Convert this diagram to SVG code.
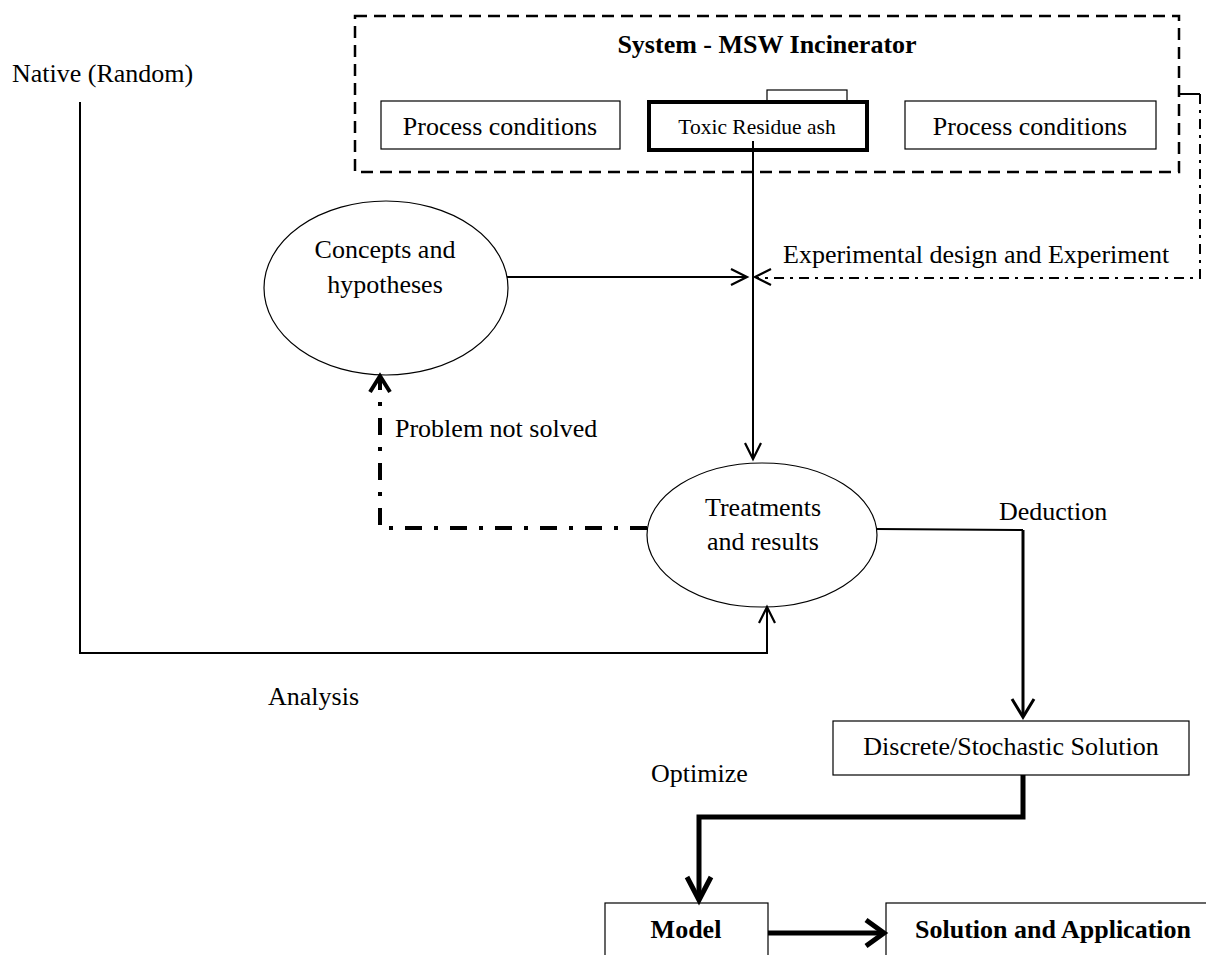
<svg xmlns="http://www.w3.org/2000/svg" width="1206" height="955" viewBox="0 0 1206 955">
<style>
text{font-family:"Liberation Serif","Times New Roman",serif;font-size:26px;fill:#000}
.b{font-weight:bold}
.box{fill:#fff;stroke:#000;stroke-width:1.2}
.ell{fill:#fff;stroke:#000;stroke-width:1.2}
.ln{fill:none;stroke:#000;stroke-width:2}
.ah{fill:none;stroke:#000;stroke-width:2.2}
.thick{fill:none;stroke:#000;stroke-width:5}
.dd{fill:none;stroke:#000;stroke-width:2;stroke-dasharray:10 6 3 6}
.ddb{fill:none;stroke:#000;stroke-width:4;stroke-dasharray:17 12 4 12}
</style>
<rect width="1206" height="955" fill="#fff"/>
<g id="system">
<rect x="355" y="16" width="824" height="156" fill="none" stroke="#000" stroke-width="2.5" stroke-dasharray="12 7"/>
<text class="b" x="767" y="53" text-anchor="middle">System - MSW Incinerator</text>
</g>
<g id="process-left">
<rect class="box" x="381" y="101" width="239" height="48"/>
<text x="500" y="135" text-anchor="middle">Process conditions</text>
</g>
<g id="toxic">
<rect x="767" y="90" width="80" height="11" fill="#fff" stroke="#000" stroke-width="1.2"/>
<rect x="649" y="102" width="218" height="48" fill="#fff" stroke="#000" stroke-width="4"/>
<text x="757" y="134" text-anchor="middle" style="font-size:21.5px">Toxic Residue ash</text>
</g>
<g id="process-right">
<rect class="box" x="905" y="101" width="251" height="48"/>
<text x="1030" y="135" text-anchor="middle">Process conditions</text>
</g>
<g id="concepts">
<ellipse class="ell" cx="386" cy="288" rx="122" ry="87"/>
<text x="385" y="258" text-anchor="middle">Concepts and</text>
<text x="385" y="293" text-anchor="middle">hypotheses</text>
</g>
<g id="treatments">
<ellipse class="ell" cx="762" cy="535" rx="115" ry="72"/>
<text x="763" y="516" text-anchor="middle">Treatments</text>
<text x="763" y="550" text-anchor="middle">and results</text>
</g>
<g id="discrete">
<rect class="box" x="833" y="721" width="356" height="54"/>
<text x="1011" y="755" text-anchor="middle">Discrete/Stochastic Solution</text>
</g>
<g id="model">
<rect class="box" x="605" y="903" width="163" height="60"/>
<text class="b" x="686" y="938" text-anchor="middle">Model</text>
</g>
<g id="solution">
<rect class="box" x="886" y="903" width="330" height="60"/>
<text class="b" x="1053" y="938" text-anchor="middle">Solution and Application</text>
</g>
<g id="connectors">
<line class="ln" x1="753" y1="141" x2="753" y2="458"/>
<polyline class="ah" points="745,443 753,459 761,443"/>
<line class="ln" x1="507" y1="277" x2="746" y2="277"/>
<polyline class="ah" points="731,269 747,277 731,285"/>
<polyline fill="none" stroke="#000" stroke-width="2" points="1179,94 1200,94"/>
<polyline class="dd" points="1200,94 1200,278 757,278"/>
<polyline class="ah" points="771,269 755,277 771,285"/>
<polyline class="ddb" points="647,528 380,528 380,377"/>
<polyline fill="none" stroke="#000" stroke-width="4" points="370,392 380,376 390,392"/>
<polyline class="ln" points="80,102 80,653 767,653 767,609"/>
<polyline class="ah" points="759,623 767,607 775,623"/>
<line class="ln" x1="877" y1="529" x2="1023" y2="530"/>
<line fill="none" stroke="#000" stroke-width="3" x1="1023" y1="530" x2="1023" y2="716"/>
<polyline fill="none" stroke="#000" stroke-width="3" points="1012,699 1023,717 1034,699"/>
<polyline class="thick" points="1023,775 1023,817 699,817 699,899"/>
<polyline class="thick" points="687,877 699,900 711,877"/>
<line class="thick" x1="768" y1="933" x2="883" y2="933"/>
<polyline class="thick" points="866,920 884,933 866,946"/>
</g>
<g id="labels">
<text x="12" y="82">Native (Random)</text>
<text x="783" y="263">Experimental design and Experiment</text>
<text x="395" y="437">Problem not solved</text>
<text x="999" y="520">Deduction</text>
<text x="268" y="705">Analysis</text>
<text x="651" y="782">Optimize</text>
</g>
</svg>
